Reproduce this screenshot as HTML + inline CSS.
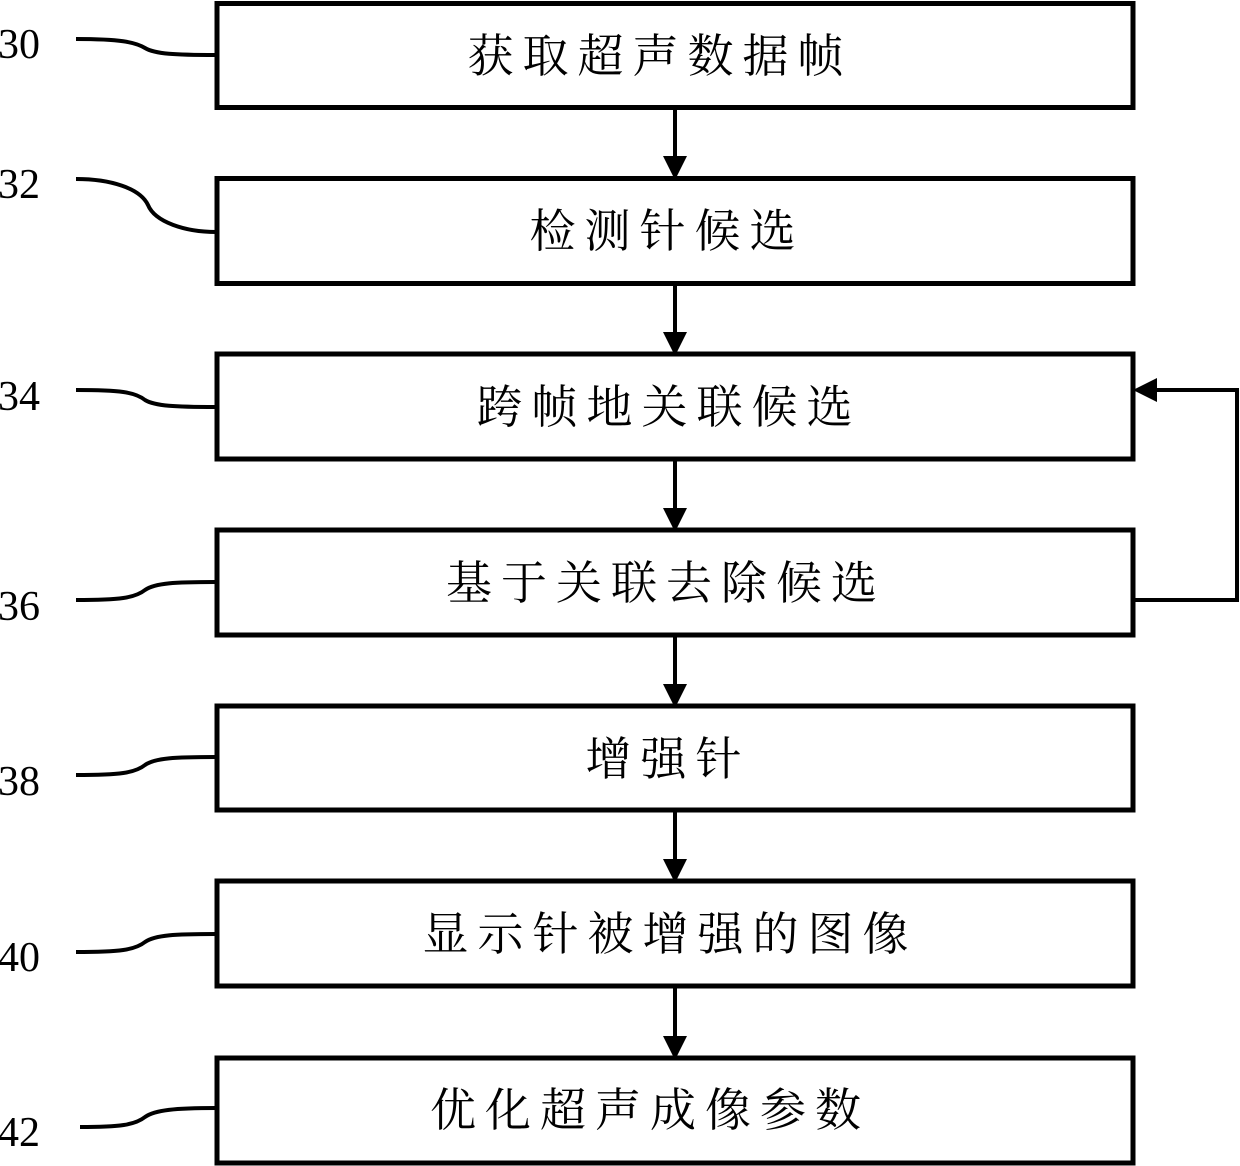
<!DOCTYPE html>
<html><head><meta charset="utf-8"><style>
html,body{margin:0;padding:0;background:#fff;}
svg{display:block}
.t{font-family:"Liberation Serif","Noto Serif CJK SC",serif;font-size:46px;letter-spacing:9px;fill:#000}
.n{font-family:"Liberation Serif",serif;font-size:42px;fill:#000}
</style></head><body>
<svg width="1240" height="1166" viewBox="0 0 1240 1166" xmlns="http://www.w3.org/2000/svg">
<defs><marker id="a" markerWidth="6" markerHeight="6" refX="5" refY="3" orient="auto" markerUnits="strokeWidth"><path d="M0,0 L6,3 L0,6 z" fill="#000"/></marker></defs>
<g fill="none" stroke="#000" stroke-width="5">
<rect x="217" y="3.5" width="916" height="104"/>
<rect x="217" y="178.5" width="916" height="105"/>
<rect x="217" y="354" width="916" height="105"/>
<rect x="217" y="530" width="916" height="105"/>
<rect x="217" y="706" width="916" height="104"/>
<rect x="217" y="881" width="916" height="105"/>
<rect x="217" y="1058" width="916" height="105"/>
</g>
<g stroke="#000" stroke-width="4" fill="none">
<line x1="675" y1="108" x2="675" y2="176" marker-end="url(#a)"/>
<line x1="675" y1="284" x2="675" y2="352" marker-end="url(#a)"/>
<line x1="675" y1="459" x2="675" y2="528" marker-end="url(#a)"/>
<line x1="675" y1="635" x2="675" y2="704" marker-end="url(#a)"/>
<line x1="675" y1="810" x2="675" y2="879" marker-end="url(#a)"/>
<line x1="675" y1="986" x2="675" y2="1056" marker-end="url(#a)"/>
<polyline points="1135,600 1237,600 1237,390 1137,390" marker-end="url(#a)"/>
<path d="M76,39 C120,39 135,42 145,48 C155,54 175,55 216,55"/>
<path d="M76,179 C110,179 140,188 148,205 C155,222 185,232 216,232"/>
<path d="M76,390 C120,390 135,392 145,400 C155,406 175,407 216,407"/>
<path d="M76,600 C120,600 135,598 145,590 C155,583 175,582 216,582"/>
<path d="M76,775 C120,775 135,773 145,765 C155,758 175,757 216,757"/>
<path d="M76,952 C120,952 135,950 145,942 C155,935 175,934 216,934"/>
<path d="M80,1127 C120,1127 135,1125 145,1117 C155,1110 175,1108 216,1108"/>
</g>
<g class="n">
<text x="-2" y="58">30</text>
<text x="-2" y="198">32</text>
<text x="-2" y="410">34</text>
<text x="-2" y="620">36</text>
<text x="-2" y="795">38</text>
<text x="-2" y="971">40</text>
<text x="-2" y="1146">42</text>
</g>
<g class="t" text-anchor="middle">
<text x="660" y="72">获取超声数据帧</text>
<text x="667" y="247">检测针候选</text>
<text x="669" y="423">跨帧地关联候选</text>
<text x="666" y="599">基于关联去除候选</text>
<text x="668" y="775">增强针</text>
<text x="670" y="950">显示针被增强的图像</text>
<text x="650" y="1126">优化超声成像参数</text>
</g>
</svg>
</body></html>
